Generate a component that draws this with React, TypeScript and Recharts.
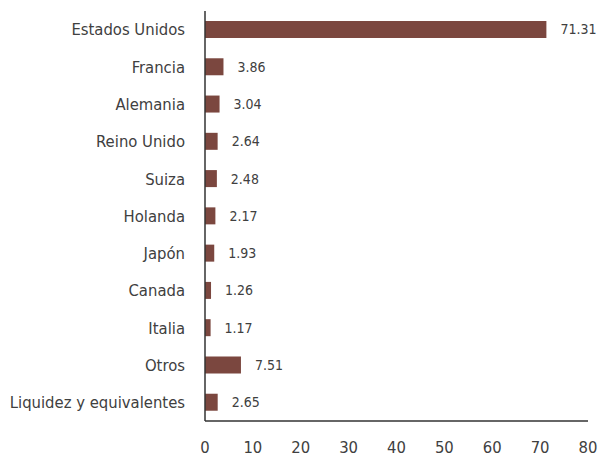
import { BarChart, Bar, XAxis, YAxis, LabelList } from "recharts";

const countries = [
  "Estados Unidos",
  "Francia",
  "Alemania",
  "Reino Unido",
  "Suiza",
  "Holanda",
  "Japón",
  "Canada",
  "Italia",
  "Otros",
  "Liquidez y equivalentes",
];
const weights = [71.31, 3.86, 3.04, 2.64, 2.48, 2.17, 1.93, 1.26, 1.17, 7.51, 2.65];
const xTicks = [0, 10, 20, 30, 40, 50, 60, 70, 80];

const data = countries.map((name, i) => ({ name, value: weights[i] }));

const font = "'Liberation Sans Narrow', 'DejaVu Sans Condensed', 'Roboto', sans-serif";
const textColor = "#404040";

export default function App() {
  return (
    <div style={{ position: "absolute", left: 0, top: 0, width: 600, height: 456, background: "#fff", fontFamily: font }}>
      <BarChart
        width={600}
        height={456}
        data={data}
        layout="vertical"
        margin={{ top: 11, right: 12, bottom: 0, left: 0 }}
      >
        <XAxis
          type="number"
          domain={[0, 80]}
          ticks={xTicks}
          tickLine={false}
          tickMargin={14}
          height={35}
          axisLine={{ stroke: "#333", strokeWidth: 1.5 }}
          tick={{ fontSize: 16.5, fill: textColor, fontFamily: font }}
        />
        <YAxis
          type="category"
          dataKey="name"
          width={205}
          tickLine={false}
          tickMargin={14}
          axisLine={{ stroke: "#333", strokeWidth: 1.5 }}
          tick={{ fontSize: 16.5, fill: textColor, fontFamily: font }}
          interval={0}
        />
        <Bar dataKey="value" fill="#7b473f" barSize={17} isAnimationActive={false}>
          <LabelList
            dataKey="value"
            position="right"
            offset={14}
            style={{ fontSize: 14, fill: textColor, fontFamily: font }}
          />
        </Bar>
      </BarChart>
    </div>
  );
}
